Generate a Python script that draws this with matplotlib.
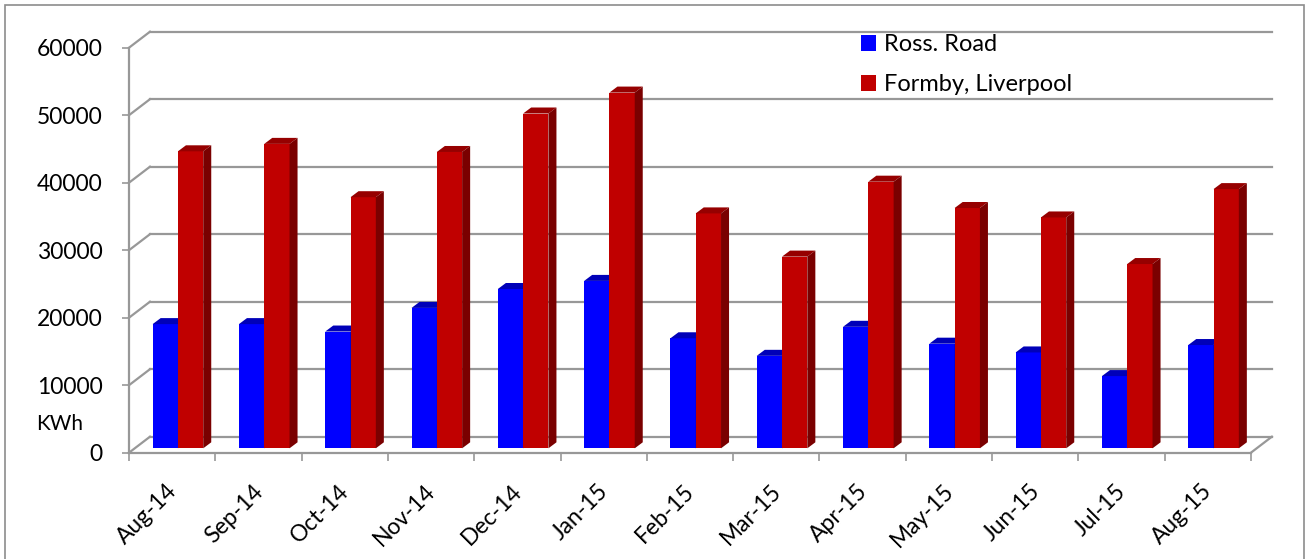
import numpy as np
import matplotlib
matplotlib.use("Agg")
import matplotlib.pyplot as plt
from matplotlib.patches import Polygon, Rectangle

plt.rcParams["font.family"] = ["Lato", "DejaVu Sans"]

# ── data ─────────────────────────────────────────────
months = ["Aug-14", "Sep-14", "Oct-14", "Nov-14", "Dec-14", "Jan-15", "Feb-15",
          "Mar-15", "Apr-15", "May-15", "Jun-15", "Jul-15", "Aug-15"]
ross_road = [18400, 18400, 17300, 20800, 23600, 24800, 16300,
             13700, 18000, 15500, 14200, 10700, 15300]
formby = [44000, 45100, 37200, 43900, 49600, 52700, 34800,
          28400, 39500, 35600, 34200, 27300, 38400]
y_ticks = [0, 10000, 20000, 30000, 40000, 50000, 60000]

# ── pseudo-3D geometry (data units) ──────────────────
n = len(months)
WALL_DX, WALL_DY = 0.243, 2370      # back wall offset
BAR_OX, BAR_OY = 0.067, 650         # bar front plane offset
BAR_DX, BAR_DY = 0.093, 890         # bar depth
BAR_W = 0.293
GRID = "#989898"

fig = plt.figure(figsize=(13.06, 5.59), dpi=100)
ax = fig.add_axes([129 / 1306, 106.3 / 559, 1121.9 / 1306, 405 / 559])
ax.set_xlim(0, n)
ax.set_ylim(0, 60000)

# walls / floor
for v in y_ticks:
    ax.plot([WALL_DX, n + WALL_DX], [v + WALL_DY] * 2, color=GRID, lw=1.6,
            clip_on=False, zorder=1)
    ax.plot([0, WALL_DX], [v, v + WALL_DY], color=GRID, lw=1.6,
            clip_on=False, zorder=1)
ax.plot([n, n + WALL_DX], [0, WALL_DY], color=GRID, lw=1.6, clip_on=False, zorder=1)

# bars
idx = np.arange(n)
x_blue = idx + 0.5 + BAR_OX - BAR_W
x_red = idx + 0.5 + BAR_OX


def draw_bar3d(xs, vals, front, top, side, z):
    ax.bar(xs, vals, width=BAR_W, bottom=BAR_OY, align="edge", color=front,
           edgecolor="none", zorder=z, clip_on=False)
    for x0, v in zip(xs, vals):
        yt = v + BAR_OY
        x1 = x0 + BAR_W
        ax.add_patch(Polygon([(x0, yt), (x0 + BAR_DX, yt + BAR_DY),
                              (x1 + BAR_DX, yt + BAR_DY), (x1, yt)],
                             closed=True, facecolor=top, edgecolor="none",
                             zorder=z, clip_on=False))
        if side is not None:
            ax.add_patch(Polygon([(x1, BAR_OY), (x1 + BAR_DX, BAR_OY + BAR_DY),
                                  (x1 + BAR_DX, yt + BAR_DY), (x1, yt)],
                                 closed=True, facecolor=side, edgecolor="none",
                                 zorder=z, clip_on=False))


draw_bar3d(x_blue, ross_road, "#0000FF", "#0000B8", "#0000A0", 3)
draw_bar3d(x_red, formby, "#C00000", "#960000", "#7A0000", 4)

# axes / ticks
for s in ["top", "right"]:
    ax.spines[s].set_visible(False)
for s in ["left", "bottom"]:
    ax.spines[s].set_color(GRID)
    ax.spines[s].set_linewidth(1.6)
    ax.spines[s].set_zorder(2)

ax.set_yticks(y_ticks)
ax.set_yticklabels([str(v) for v in y_ticks], fontsize=16.5)
ax.tick_params(axis="y", length=5, width=1.2, color=GRID, pad=14)

ax.set_xticks(np.arange(n + 1))
ax.set_xticklabels([])
ax.tick_params(axis="x", which="major", length=6, width=1.2, color=GRID)
ax.set_xticks(idx + 0.6, minor=True)
ax.set_xticklabels(months, minor=True, rotation=45, ha="right", fontsize=16.5)
ax.tick_params(axis="x", which="minor", length=0, pad=20)

fig.text(36 / 1306, 1 - 424 / 559, "KWh", fontsize=15, ha="left", va="center")

# legend
h_blue = Rectangle((0, 0), 1, 1, facecolor="#0000FF")
h_red = Rectangle((0, 0), 1, 1, facecolor="#C00000")
fig.legend([h_blue, h_red], ["Ross. Road", "Formby, Liverpool"],
           loc="upper left", bbox_to_anchor=(861 / 1306, 1 - 34 / 559),
           frameon=False, fontsize=17, handlelength=0.64, handleheight=0.64,
           handletextpad=0.32, labelspacing=0.82, borderpad=0, borderaxespad=0)

# outer chart border
fig.add_artist(Rectangle((5 / 1306, -0.05), 1299 / 1306, 1.05 - 5 / 559,
                         transform=fig.transFigure, fill=False,
                         edgecolor="#8C8C8C", lw=1.2))

fig.savefig("out.png", dpi=100, facecolor="white")
